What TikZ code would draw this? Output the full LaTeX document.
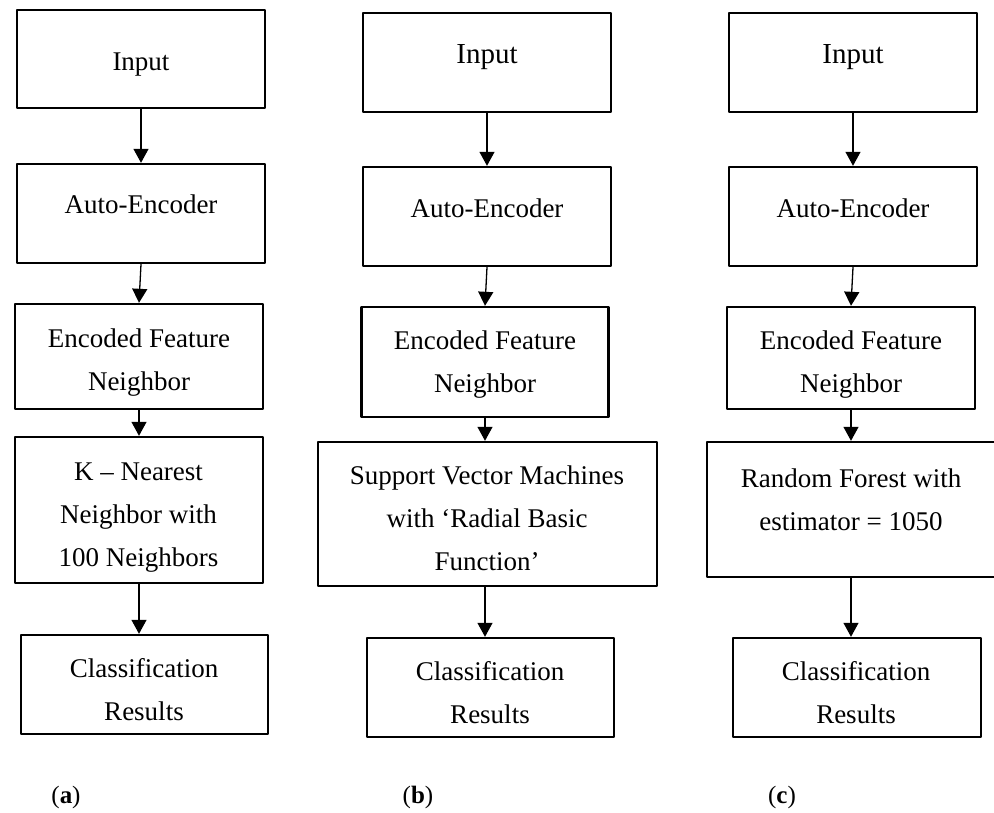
\documentclass[tikz,border=0pt]{standalone}
\usepackage{fontspec}
\setmainfont{Liberation Serif}
\usetikzlibrary{arrows.meta}
\begin{document}
\begin{tikzpicture}[x=1pt,y=-1pt,line join=round,>={Triangle[width=15pt,length=14pt]},
  box/.style={draw,line width=2.4pt,inner sep=0pt},
  txt/.style={align=center,anchor=base,inner sep=0pt,font=\fontsize{27}{43}\selectfont},
  big/.style={font=\fontsize{29}{43}\selectfont},
  flow/.style={->,line width=1.3pt}]
\useasboundingbox (0,0) rectangle (994,812);
% boxes: name/x/y/width/height
\foreach \n/\x/\y/\w/\h in {aIn/141/59/248/98,aAE/141/213.5/248/99,aEnc/139/356.5/248/105,
  aKNN/139/510/248/146,aRes/144.5/684.5/247/99,
  bIn/487/62.5/248/99,bAE/487/216.5/248/99,bEnc/485/362/247/110,
  bSVM/487.5/514/339/144,bRes/490.5/687.5/247/99,
  cIn/853/62.5/248/99,cAE/853/216.5/248/99,cEnc/851/358/248/102,
  cRF/852/509.5/290/135,cRes/857/687.5/248/99}
  \node[box,minimum width=\w pt,minimum height=\h pt] (\n) at (\x,\y) {};
% arrows
\foreach \s/\t in {aIn/aAE,aAE/aEnc,aEnc/aKNN,bIn/bAE,bAE/bEnc,cIn/cAE,cAE/cEnc}
  \draw[flow] (\s.south)--(\t.north);
\foreach \s/\t/\r in {aKNN/aRes/aKNN,bEnc/bSVM/bEnc,bSVM/bRes/bEnc,cEnc/cRF/cEnc,cRF/cRes/cEnc}
  \draw[flow] (\r.south|-\s.south)--(\r.south|-\t.north);
% (a)
\node[txt] (aInT) at (141,70) {Input};
\node[txt] (aAET) at (141,213) {Auto-Encoder};
\node[txt] (aEncT) at (139,390) {Encoded Feature\\Neighbor};
\node[txt] (aKNNT) at (138.5,566) {K – Nearest\\Neighbor with\\100 Neighbors};
\node[txt] (aResT) at (144,720) {Classification\\Results};
% (b)
\node[txt,big] (bInT) at (487,63) {Input};
\node[txt] (bAET) at (487,217) {Auto-Encoder};
\node[txt] (bEncT) at (485,392) {Encoded Feature\\Neighbor};
\node[txt] (bSVMT) at (487,570) {Support Vector Machines\\with ‘Radial Basic\\Function’};
\node[txt] (bResT) at (490,723) {Classification\\Results};
% (c)
\node[txt,big] (cInT) at (853,63) {Input};
\node[txt] (cAET) at (853,217) {Auto-Encoder};
\node[txt] (cEncT) at (851,392) {Encoded Feature\\Neighbor};
\node[txt] (cRFT) at (851,530) {Random Forest with\\estimator = 1050};
\node[txt] (cResT) at (856,723) {Classification\\Results};
\foreach \n/\x/\l in {aLab/66/a,bLab/418/b,cLab/782/c}
  \node[txt,font=\fontsize{25}{28}\selectfont] (\n) at (\x,803) {(\textbf{\l})};
\end{tikzpicture}
\end{document}
